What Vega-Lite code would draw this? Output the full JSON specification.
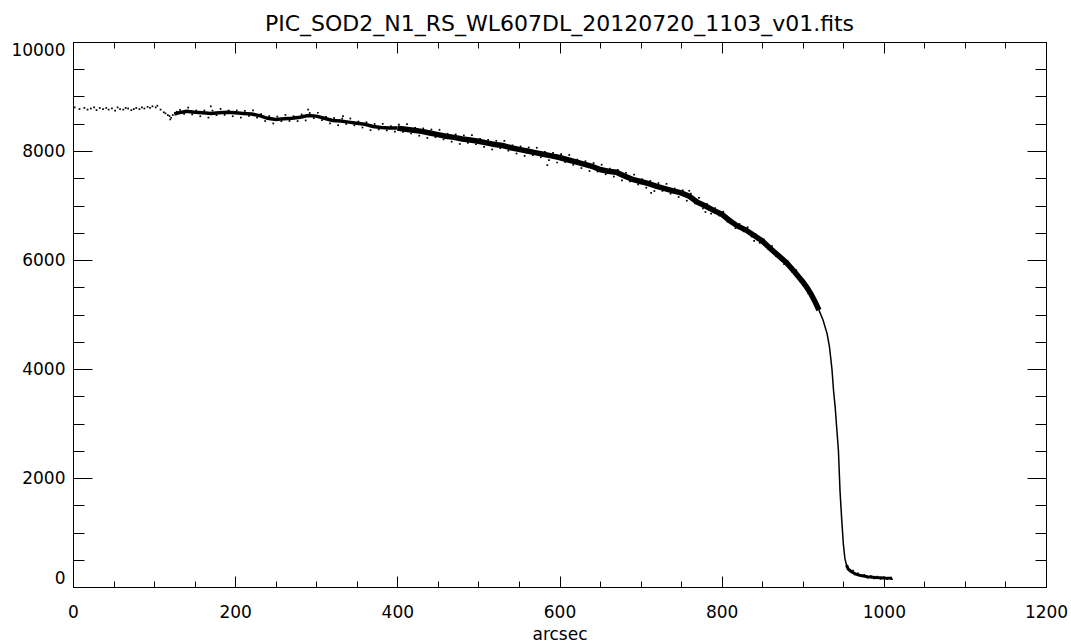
{
  "$schema": "https://vega.github.io/schema/vega-lite/v6.json",
  "width": 973,
  "height": 545,
  "autosize": {"type": "none"},
  "padding": {"left": 73, "top": 42, "right": 25, "bottom": 56},
  "background": "white",
  "title": {"text": "PIC_SOD2_N1_RS_WL607DL_20120720_1103_v01.fits", "font": "DejaVu Sans", "fontSize": 22, "fontWeight": "normal", "color": "black", "anchor": "middle", "offset": 5},
  "config": {
    "view": {"stroke": null},
    "axis": {"grid": false, "domainColor": "black", "tickColor": "black", "labelColor": "black", "labelFont": "DejaVu Sans", "labelFontSize": 17, "titleFont": "DejaVu Sans", "titleFontSize": 17, "titleFontWeight": "normal", "titleColor": "black", "domainWidth": 1, "tickWidth": 1}
  },
  "datasets": {
    "core": [
      {"x":100,"y":8810},{"x":105,"y":8790},{"x":110,"y":8730},{"x":115,"y":8680},{"x":120,"y":8630},{"x":125,"y":8680},{"x":130,"y":8700},{"x":140,"y":8730},{"x":150,"y":8710},{"x":160,"y":8700},{"x":170,"y":8690},{"x":180,"y":8700},{"x":190,"y":8710},{"x":200,"y":8700},{"x":210,"y":8690},{"x":220,"y":8680},{"x":230,"y":8650},{"x":240,"y":8600},{"x":250,"y":8580},{"x":260,"y":8590},{"x":270,"y":8600},{"x":280,"y":8620},{"x":290,"y":8650},{"x":300,"y":8640},{"x":310,"y":8600},{"x":320,"y":8560},{"x":330,"y":8550},{"x":340,"y":8530},{"x":350,"y":8510},{"x":360,"y":8490},{"x":370,"y":8450},{"x":380,"y":8430},{"x":390,"y":8420},{"x":400,"y":8420},{"x":410,"y":8400},{"x":420,"y":8380},{"x":430,"y":8360},{"x":440,"y":8330},{"x":450,"y":8300},{"x":460,"y":8270},{"x":470,"y":8250},{"x":480,"y":8220},{"x":490,"y":8200},{"x":500,"y":8180},{"x":510,"y":8150},{"x":520,"y":8120},{"x":530,"y":8100},{"x":540,"y":8060},{"x":550,"y":8030},{"x":560,"y":8000},{"x":570,"y":7970},{"x":580,"y":7940},{"x":590,"y":7910},{"x":600,"y":7880},{"x":610,"y":7840},{"x":620,"y":7800},{"x":630,"y":7760},{"x":640,"y":7720},{"x":650,"y":7660},{"x":660,"y":7630},{"x":670,"y":7610},{"x":680,"y":7540},{"x":690,"y":7480},{"x":700,"y":7440},{"x":710,"y":7400},{"x":720,"y":7350},{"x":730,"y":7310},{"x":740,"y":7270},{"x":750,"y":7230},{"x":760,"y":7170},{"x":770,"y":7060},{"x":780,"y":6990},{"x":790,"y":6910},{"x":800,"y":6840},{"x":810,"y":6720},{"x":820,"y":6620},{"x":830,"y":6550},{"x":840,"y":6450},{"x":850,"y":6350},{"x":860,"y":6210},{"x":870,"y":6080},{"x":880,"y":5950},{"x":890,"y":5780},{"x":900,"y":5600},{"x":905,"y":5500},{"x":910,"y":5380},{"x":915,"y":5240},{"x":920,"y":5080},{"x":925,"y":4900},{"x":930,"y":4650},{"x":933,"y":4400},{"x":936,"y":4000},{"x":938,"y":3600},{"x":940,"y":3300},{"x":942,"y":2900},{"x":944,"y":2500},{"x":946,"y":1750},{"x":948,"y":1250},{"x":950,"y":800},{"x":952,"y":520},{"x":954,"y":400},{"x":956,"y":330},{"x":960,"y":280},{"x":965,"y":240},{"x":970,"y":215},{"x":980,"y":190},{"x":990,"y":175},{"x":1000,"y":165},{"x":1010,"y":160}
    ],
    "dots": [
      {"x":2,"y":8800},{"x":8,"y":8770},{"x":14,"y":8790},{"x":18,"y":8760},{"x":22,"y":8780},{"x":26,"y":8800},{"x":29,"y":8750},{"x":33,"y":8790},{"x":37,"y":8770},{"x":41,"y":8790},{"x":44,"y":8760},{"x":48,"y":8780},{"x":52,"y":8740},{"x":55,"y":8800},{"x":58,"y":8770},{"x":62,"y":8760},{"x":65,"y":8790},{"x":68,"y":8780},{"x":72,"y":8750},{"x":75,"y":8770},{"x":78,"y":8790},{"x":82,"y":8770},{"x":85,"y":8800},{"x":88,"y":8780},{"x":92,"y":8810},{"x":95,"y":8790},{"x":98,"y":8820},{"x":102,"y":8800},{"x":104,"y":8830},{"x":108,"y":8760},{"x":112,"y":8710},{"x":114,"y":8690},{"x":117,"y":8660},{"x":119,"y":8640},{"x":120,"y":8580},{"x":121,"y":8610},{"x":123,"y":8660},{"x":126,"y":8690},{"x":128,"y":8720},
      {"x":132,"y":8756},{"x":137,"y":8681},{"x":142,"y":8796},{"x":147,"y":8671},{"x":152,"y":8743},{"x":157,"y":8638},{"x":162,"y":8743},{"x":167,"y":8613},{"x":170,"y":8820},{"x":172,"y":8742},{"x":177,"y":8657},{"x":182,"y":8772},{"x":187,"y":8662},{"x":192,"y":8743},{"x":197,"y":8638},{"x":202,"y":8743},{"x":207,"y":8613},{"x":212,"y":8738},{"x":217,"y":8643},{"x":222,"y":8744},{"x":227,"y":8614},{"x":232,"y":8675},{"x":237,"y":8550},{"x":242,"y":8641},{"x":247,"y":8506},{"x":252,"y":8632},{"x":257,"y":8547},{"x":262,"y":8662},{"x":267,"y":8552},{"x":272,"y":8639},{"x":277,"y":8549},{"x":282,"y":8671},{"x":287,"y":8561},{"x":290,"y":8760},{"x":292,"y":8698},{"x":297,"y":8603},{"x":302,"y":8702},{"x":307,"y":8567},{"x":312,"y":8627},{"x":317,"y":8507},{"x":322,"y":8603},{"x":327,"y":8473},{"x":332,"y":8596},{"x":333,"y":8640},{"x":337,"y":8496},{"x":342,"y":8596},{"x":347,"y":8471},{"x":352,"y":8541},{"x":357,"y":8431},{"x":362,"y":8527},{"x":367,"y":8382},{"x":372,"y":8496},{"x":377,"y":8396},{"x":382,"y":8498},{"x":387,"y":8378},{"x":392,"y":8455},{"x":397,"y":8355},
      {"x":402,"y":8486},{"x":407,"y":8351},{"x":412,"y":8491},{"x":417,"y":8321},{"x":422,"y":8426},{"x":427,"y":8281},{"x":432,"y":8414},{"x":437,"y":8239},{"x":442,"y":8394},{"x":447,"y":8254},{"x":452,"y":8389},{"x":457,"y":8214},{"x":462,"y":8316},{"x":467,"y":8171},{"x":472,"y":8304},{"x":477,"y":8129},{"x":482,"y":8286},{"x":487,"y":8151},{"x":492,"y":8291},{"x":497,"y":8124},{"x":502,"y":8224},{"x":507,"y":8074},{"x":512,"y":8204},{"x":517,"y":8029},{"x":522,"y":8186},{"x":527,"y":8051},{"x":532,"y":8187},{"x":537,"y":8007},{"x":542,"y":8104},{"x":547,"y":7954},{"x":552,"y":8084},{"x":557,"y":7909},{"x":562,"y":8064},{"x":567,"y":7924},{"x":572,"y":8059},{"x":577,"y":7884},{"x":582,"y":7984},{"x":585,"y":7740},{"x":587,"y":7834},{"x":592,"y":7964},{"x":597,"y":7789},{"x":602,"y":7942},{"x":607,"y":7797},{"x":612,"y":7927},{"x":617,"y":7747},{"x":622,"y":7842},{"x":627,"y":7687},{"x":632,"y":7812},{"x":637,"y":7632},{"x":642,"y":7778},{"x":647,"y":7623},{"x":652,"y":7749},{"x":657,"y":7574},{"x":662,"y":7676},{"x":667,"y":7531},{"x":672,"y":7656},{"x":677,"y":7461},{"x":682,"y":7598},{"x":687,"y":7443},{"x":692,"y":7567},{"x":697,"y":7387},{"x":702,"y":7482},{"x":707,"y":7327},{"x":712,"y":7450},{"x":713,"y":7230},{"x":717,"y":7265},{"x":722,"y":7412},{"x":727,"y":7267},{"x":732,"y":7397},{"x":737,"y":7217},{"x":742,"y":7312},{"x":747,"y":7157},{"x":752,"y":7278},{"x":757,"y":7088},{"x":760,"y":7270},{"x":762,"y":7218},{"x":767,"y":7038},{"x":772,"y":7141},{"x":777,"y":6946},{"x":780,"y":6880},{"x":782,"y":7024},{"x":787,"y":6849},
      {"x":792,"y":6951},{"x":797,"y":6816},{"x":802,"y":6886},{"x":807,"y":6706},{"x":812,"y":6740},{"x":817,"y":6585},{"x":822,"y":6661},{"x":827,"y":6526},{"x":832,"y":6600},{"x":837,"y":6430},{"x":840,"y":6350},{"x":842,"y":6470},{"x":847,"y":6315},{"x":852,"y":6377},{"x":857,"y":6207},{"x":862,"y":6254},{"x":867,"y":6069},{"x":872,"y":6094},{"x":877,"y":5924},{"x":882,"y":5971},{"x":887,"y":5786},{"x":892,"y":5814},{"x":897,"y":5604},{"x":902,"y":5600},{"x":907,"y":5387},{"x":912,"y":5379},{"x":917,"y":5131},
      {"x":956,"y":360},{"x":958,"y":290},{"x":962,"y":300},{"x":964,"y":230},{"x":968,"y":250},{"x":972,"y":200},{"x":976,"y":220},{"x":980,"y":170},{"x":984,"y":200},{"x":988,"y":160},{"x":992,"y":190},{"x":996,"y":150},{"x":1000,"y":180},{"x":1004,"y":150},{"x":1008,"y":170},{"x":1010,"y":145}
    ]
  },
  "resolve": {"axis": {"x": "independent", "y": "independent"}},
  "layer": [
    {
      "data": {"name": "dots"},
      "mark": {"type": "point", "shape": "square", "size": 3, "filled": true, "color": "black", "opacity": 1},
      "encoding": {
        "x": {"field": "x", "type": "quantitative", "scale": {"domain": [0, 1200], "nice": false, "zero": false}, "axis": {"orient": "bottom", "title": "arcsec", "format": "d", "values": [0, 200, 400, 600, 800, 1000, 1200], "tickSize": -11, "labelPadding": 28, "titlePadding": 6, "labelFlush": false, "labelOverlap": false}},
        "y": {"field": "y", "type": "quantitative", "scale": {"domain": [0, 10000], "nice": false, "zero": false}, "axis": {"orient": "left", "title": null, "format": "d", "values": [0, 2000, 4000, 6000, 8000, 10000], "tickSize": -19, "labelPadding": 27, "labelFlush": true, "labelOverlap": false}}
      }
    },
    {
      "data": {"name": "core"},
      "transform": [{"filter": "datum.x >= 125 && datum.x <= 400"}],
      "mark": {"type": "line", "color": "black", "strokeWidth": 3.5},
      "encoding": {
        "x": {"field": "x", "type": "quantitative", "axis": {"orient": "bottom", "title": null, "labels": false, "domain": false, "values": [50, 100, 150, 250, 300, 350, 450, 500, 550, 650, 700, 750, 850, 900, 950, 1050, 1100, 1150], "tickSize": -6}},
        "y": {"field": "y", "type": "quantitative", "axis": {"orient": "left", "title": null, "labels": false, "domain": false, "values": [500, 1000, 1500, 2500, 3000, 3500, 4500, 5000, 5500, 6500, 7000, 7500, 8500, 9000, 9500], "tickSize": -11}}
      }
    },
    {
      "data": {"name": "core"},
      "transform": [{"filter": "datum.x >= 400 && datum.x <= 922"}],
      "mark": {"type": "line", "color": "black", "strokeWidth": 5.5},
      "encoding": {
        "x": {"field": "x", "type": "quantitative", "axis": {"orient": "top", "title": null, "labels": false, "values": [0, 200, 400, 600, 800, 1000, 1200], "tickSize": -11}},
        "y": {"field": "y", "type": "quantitative", "axis": {"orient": "right", "title": null, "labels": false, "values": [0, 2000, 4000, 6000, 8000, 10000], "tickSize": -19}}
      }
    },
    {
      "data": {"name": "core"},
      "transform": [{"filter": "datum.x >= 920 && datum.x <= 956"}],
      "mark": {"type": "line", "color": "black", "strokeWidth": 1.5},
      "encoding": {
        "x": {"field": "x", "type": "quantitative", "axis": {"orient": "top", "title": null, "labels": false, "domain": false, "values": [50, 100, 150, 250, 300, 350, 450, 500, 550, 650, 700, 750, 850, 900, 950, 1050, 1100, 1150], "tickSize": -6}},
        "y": {"field": "y", "type": "quantitative", "axis": {"orient": "right", "title": null, "labels": false, "domain": false, "values": [500, 1000, 1500, 2500, 3000, 3500, 4500, 5000, 5500, 6500, 7000, 7500, 8500, 9000, 9500], "tickSize": -11}}
      }
    },
    {
      "data": {"name": "core"},
      "transform": [{"filter": "datum.x >= 954"}],
      "mark": {"type": "line", "color": "black", "strokeWidth": 3},
      "encoding": {
        "x": {"field": "x", "type": "quantitative", "axis": null},
        "y": {"field": "y", "type": "quantitative", "axis": null}
      }
    }
  ]
}
